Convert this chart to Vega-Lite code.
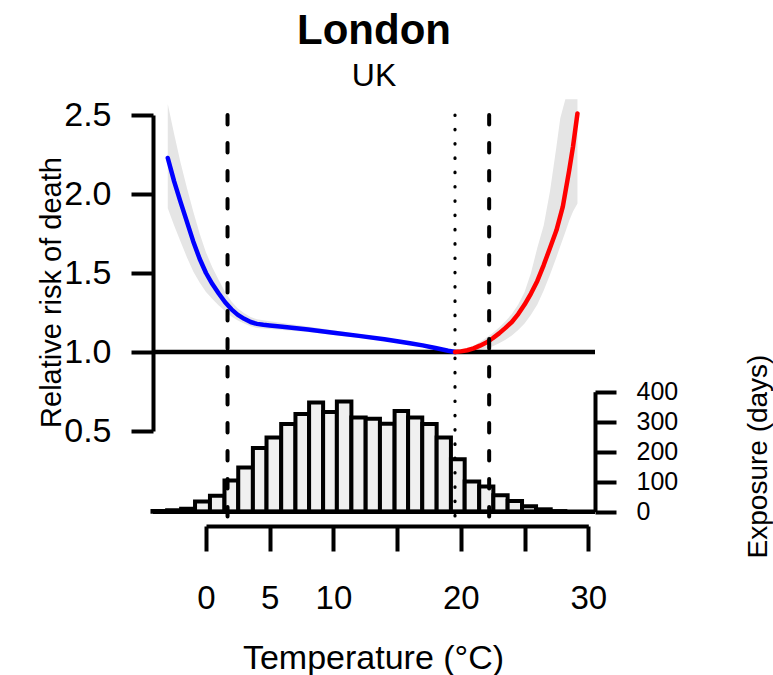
{
  "$schema": "https://vega.github.io/schema/vega-lite/v6.json",
  "width": 442,
  "height": 411,
  "autosize": {"type": "none"},
  "padding": {"left": 153, "top": 115, "right": 178, "bottom": 149},
  "background": "white",
  "title": {
    "text": "London",
    "subtitle": "UK",
    "anchor": "middle",
    "frame": "group",
    "font": "Liberation Sans",
    "fontSize": 42,
    "fontWeight": "bold",
    "color": "black",
    "subtitleFont": "Liberation Sans",
    "subtitleFontSize": 32,
    "subtitleColor": "black",
    "offset": 5,
    "subtitlePadding": 8
  },
  "config": {
    "view": {"stroke": null},
    "font": "Liberation Sans",
    "axisX": {
      "orient": "bottom",
      "grid": false,
      "domainColor": "black",
      "domainWidth": 4,
      "tickColor": "black",
      "tickWidth": 4,
      "tickSize": 25,
      "labelColor": "black",
      "labelFont": "Liberation Sans",
      "labelPadding": 31,
      "labelFontSize": 33,
      "labelFlush": false,
      "labelOverlap": false,
      "titleColor": "black",
      "titleFont": "Liberation Sans",
      "titleFontWeight": "normal",
      "titleFontSize": 34,
      "titleX": 220,
      "titleY": 142,
      "titleAlign": "center",
      "titleBaseline": "alphabetic"
    }
  },
  "resolve": {"scale": {"y": "independent"}, "axis": {"y": "independent"}},
  "layer": [
    {
      "data": {"values": [
        {"x0": -4.2, "x1": -3.05, "n": 2},
        {"x0": -3.05, "x1": -1.95, "n": 5},
        {"x0": -1.95, "x1": -0.86, "n": 10},
        {"x0": -0.86, "x1": 0.31, "n": 34},
        {"x0": 0.31, "x1": 1.45, "n": 53},
        {"x0": 1.45, "x1": 2.53, "n": 104},
        {"x0": 2.53, "x1": 3.68, "n": 147},
        {"x0": 3.68, "x1": 4.75, "n": 212},
        {"x0": 4.75, "x1": 5.9, "n": 247},
        {"x0": 5.9, "x1": 7.02, "n": 292},
        {"x0": 7.02, "x1": 8.09, "n": 326},
        {"x0": 8.09, "x1": 9.19, "n": 364},
        {"x0": 9.19, "x1": 10.27, "n": 332},
        {"x0": 10.27, "x1": 11.41, "n": 367},
        {"x0": 11.41, "x1": 12.53, "n": 314},
        {"x0": 12.53, "x1": 13.65, "n": 310},
        {"x0": 13.65, "x1": 14.8, "n": 293},
        {"x0": 14.8, "x1": 15.86, "n": 336},
        {"x0": 15.86, "x1": 16.97, "n": 314},
        {"x0": 16.97, "x1": 18.1, "n": 292},
        {"x0": 18.1, "x1": 19.22, "n": 247},
        {"x0": 19.22, "x1": 20.3, "n": 175},
        {"x0": 20.3, "x1": 21.44, "n": 101},
        {"x0": 21.44, "x1": 22.55, "n": 84},
        {"x0": 22.55, "x1": 23.67, "n": 55},
        {"x0": 23.67, "x1": 24.8, "n": 36},
        {"x0": 24.8, "x1": 25.9, "n": 18},
        {"x0": 25.9, "x1": 27.05, "n": 8},
        {"x0": 27.05, "x1": 28.2, "n": 2}
      ]},
      "mark": {"type": "rect", "fill": "#F0F0F0", "stroke": "black", "strokeWidth": 4},
      "encoding": {
        "x": {
          "field": "x0", "type": "quantitative",
          "scale": {"domain": [0, 30], "range": [53, 435.3], "nice": false, "zero": false},
          "title": "Temperature (°C)",
          "axis": {"values": [0, 5, 10, 15, 20, 25, 30], "format": "d", "labelExpr": "datum.value == 15 || datum.value == 25 ? '' : datum.label"}
        },
        "x2": {"field": "x1"},
        "y": {
          "field": "n", "type": "quantitative",
          "scale": {"domain": [0, 400], "range": [396.7, 276.7], "nice": false, "zero": false},
          "axis": {
            "orient": "right",
            "grid": false,
            "values": [0, 100, 200, 300, 400],
            "domainColor": "black",
            "domainWidth": 4,
            "tickColor": "black",
            "tickWidth": 4,
            "tickSize": 21,
            "labelColor": "black",
            "labelFont": "Liberation Sans",
            "labelPadding": 20,
            "labelFontSize": 25,
            "labelBaseline": "middle",
            "labelOverlap": false,
            "labelFlush": false,
            "title": "Exposure (days)",
            "titleColor": "black",
            "titleFont": "Liberation Sans",
            "titleFontWeight": "normal",
            "titleFontSize": 28,
            "titleAngle": 270,
            "titleX": 171,
            "titleY": 341,
            "titleAlign": "center",
            "titleBaseline": "alphabetic"
          }
        },
        "y2": {"datum": 0}
      }
    },
    {
      "data": {"values": [{}]},
      "mark": {"type": "rule", "color": "black", "strokeWidth": 4.5},
      "encoding": {
        "y": {"datum": 0, "type": "quantitative", "scale": {"domain": [0, 400], "range": [396.7, 276.7], "nice": false, "zero": false}, "axis": null}
      }
    },
    {
      "data": {"values": [
        {"seg": "cold", "t": -3.0, "lo": 1.91, "hi": 2.57},
        {"seg": "cold", "t": -2.5, "lo": 1.80, "hi": 2.38},
        {"seg": "cold", "t": -2.0, "lo": 1.70, "hi": 2.20},
        {"seg": "cold", "t": -1.5, "lo": 1.60, "hi": 2.04},
        {"seg": "cold", "t": -1.0, "lo": 1.51, "hi": 1.89},
        {"seg": "cold", "t": -0.5, "lo": 1.44, "hi": 1.75},
        {"seg": "cold", "t": 0.0, "lo": 1.38, "hi": 1.63},
        {"seg": "cold", "t": 0.5, "lo": 1.335, "hi": 1.535},
        {"seg": "cold", "t": 1.0, "lo": 1.295, "hi": 1.455},
        {"seg": "cold", "t": 1.5, "lo": 1.26, "hi": 1.38},
        {"seg": "cold", "t": 2.0, "lo": 1.225, "hi": 1.32},
        {"seg": "cold", "t": 2.5, "lo": 1.20, "hi": 1.275},
        {"seg": "cold", "t": 3.0, "lo": 1.18, "hi": 1.245},
        {"seg": "cold", "t": 3.5, "lo": 1.163, "hi": 1.222},
        {"seg": "cold", "t": 4.0, "lo": 1.152, "hi": 1.207},
        {"seg": "cold", "t": 5.0, "lo": 1.145, "hi": 1.195},
        {"seg": "cold", "t": 6.0, "lo": 1.14, "hi": 1.183},
        {"seg": "cold", "t": 8.0, "lo": 1.126, "hi": 1.162},
        {"seg": "cold", "t": 10.0, "lo": 1.108, "hi": 1.137},
        {"seg": "cold", "t": 12.0, "lo": 1.09, "hi": 1.114},
        {"seg": "cold", "t": 14.0, "lo": 1.071, "hi": 1.09},
        {"seg": "cold", "t": 16.0, "lo": 1.049, "hi": 1.062},
        {"seg": "cold", "t": 18.0, "lo": 1.021, "hi": 1.029},
        {"seg": "cold", "t": 19.54, "lo": 1.0, "hi": 1.0},
        {"seg": "heat", "t": 19.54, "lo": 1.0, "hi": 1.0},
        {"seg": "heat", "t": 20.0, "lo": 0.998, "hi": 1.01},
        {"seg": "heat", "t": 20.5, "lo": 1.0, "hi": 1.022},
        {"seg": "heat", "t": 21.0, "lo": 1.005, "hi": 1.04},
        {"seg": "heat", "t": 21.5, "lo": 1.012, "hi": 1.063},
        {"seg": "heat", "t": 22.0, "lo": 1.022, "hi": 1.09},
        {"seg": "heat", "t": 22.5, "lo": 1.036, "hi": 1.12},
        {"seg": "heat", "t": 23.0, "lo": 1.055, "hi": 1.155},
        {"seg": "heat", "t": 23.5, "lo": 1.078, "hi": 1.195},
        {"seg": "heat", "t": 24.0, "lo": 1.105, "hi": 1.24},
        {"seg": "heat", "t": 24.5, "lo": 1.14, "hi": 1.30},
        {"seg": "heat", "t": 25.0, "lo": 1.18, "hi": 1.38},
        {"seg": "heat", "t": 25.5, "lo": 1.235, "hi": 1.50},
        {"seg": "heat", "t": 26.0, "lo": 1.30, "hi": 1.66},
        {"seg": "heat", "t": 26.5, "lo": 1.39, "hi": 1.80},
        {"seg": "heat", "t": 27.0, "lo": 1.49, "hi": 2.02},
        {"seg": "heat", "t": 27.5, "lo": 1.60, "hi": 2.30},
        {"seg": "heat", "t": 27.8, "lo": 1.67, "hi": 2.48},
        {"seg": "heat", "t": 28.2, "lo": 1.76, "hi": 2.60},
        {"seg": "heat", "t": 28.5, "lo": 1.83, "hi": 2.60},
        {"seg": "heat", "t": 28.8, "lo": 1.89, "hi": 2.60},
        {"seg": "heat", "t": 29.15, "lo": 1.94, "hi": 2.60}
      ]},
      "mark": {"type": "area", "color": "#E5E5E5"},
      "encoding": {
        "x": {
          "field": "t", "type": "quantitative",
          "scale": {"domain": [0, 30], "range": [53, 435.3], "nice": false, "zero": false},
          "title": "Temperature (°C)",
          "axis": {"values": [0, 5, 10, 15, 20, 25, 30], "format": "d", "labelExpr": "datum.value == 15 || datum.value == 25 ? '' : datum.label"}
        },
        "y": {
          "field": "lo", "type": "quantitative",
          "scale": {"domain": [0.5, 2.5], "range": [316, 0], "nice": false, "zero": false},
          "axis": {
            "orient": "left",
            "grid": false,
            "values": [0.5, 1, 1.5, 2, 2.5],
            "format": ".1f",
            "domainColor": "black",
            "domainWidth": 4,
            "tickColor": "black",
            "tickWidth": 4,
            "tickSize": 22,
            "labelColor": "black",
            "labelFont": "Liberation Sans",
            "labelPadding": 20,
            "labelFontSize": 34,
            "labelBaseline": "middle",
            "labelOverlap": false,
            "labelFlush": false,
            "title": "Relative risk of death",
            "titleColor": "black",
            "titleFont": "Liberation Sans",
            "titleFontWeight": "normal",
            "titleFontSize": 29,
            "titleAngle": 270,
            "titleX": -93,
            "titleY": 177,
            "titleAlign": "center",
            "titleBaseline": "alphabetic"
          }
        },
        "y2": {"field": "hi"},
        "detail": {"field": "seg", "type": "nominal"}
      }
    },
    {
      "data": {"values": [{}]},
      "mark": {"type": "rule", "color": "black", "strokeWidth": 4.5},
      "encoding": {
        "y": {"datum": 1, "type": "quantitative", "scale": {"domain": [0.5, 2.5], "range": [316, 0], "nice": false, "zero": false}, "axis": null}
      }
    },
    {
      "data": {"values": [
        {"seg": "cold", "t": -3.0, "rr": 2.228},
        {"seg": "cold", "t": -2.5, "rr": 2.08},
        {"seg": "cold", "t": -2.0, "rr": 1.95},
        {"seg": "cold", "t": -1.5, "rr": 1.825},
        {"seg": "cold", "t": -1.0, "rr": 1.70},
        {"seg": "cold", "t": -0.5, "rr": 1.59},
        {"seg": "cold", "t": 0.0, "rr": 1.50},
        {"seg": "cold", "t": 0.5, "rr": 1.43},
        {"seg": "cold", "t": 1.0, "rr": 1.37},
        {"seg": "cold", "t": 1.5, "rr": 1.315},
        {"seg": "cold", "t": 2.0, "rr": 1.27},
        {"seg": "cold", "t": 2.5, "rr": 1.235},
        {"seg": "cold", "t": 3.0, "rr": 1.21},
        {"seg": "cold", "t": 3.5, "rr": 1.19},
        {"seg": "cold", "t": 4.0, "rr": 1.178},
        {"seg": "cold", "t": 4.5, "rr": 1.172},
        {"seg": "cold", "t": 5.0, "rr": 1.168},
        {"seg": "cold", "t": 6.0, "rr": 1.16},
        {"seg": "cold", "t": 8.0, "rr": 1.143},
        {"seg": "cold", "t": 10.0, "rr": 1.122},
        {"seg": "cold", "t": 12.0, "rr": 1.102},
        {"seg": "cold", "t": 14.0, "rr": 1.081},
        {"seg": "cold", "t": 16.0, "rr": 1.056},
        {"seg": "cold", "t": 17.0, "rr": 1.042},
        {"seg": "cold", "t": 18.0, "rr": 1.025},
        {"seg": "cold", "t": 19.0, "rr": 1.008},
        {"seg": "cold", "t": 19.54, "rr": 1.0},
        {"seg": "heat", "t": 19.54, "rr": 1.0},
        {"seg": "heat", "t": 20.0, "rr": 1.004},
        {"seg": "heat", "t": 20.5, "rr": 1.011},
        {"seg": "heat", "t": 21.0, "rr": 1.023},
        {"seg": "heat", "t": 21.5, "rr": 1.04},
        {"seg": "heat", "t": 22.0, "rr": 1.06},
        {"seg": "heat", "t": 22.5, "rr": 1.087},
        {"seg": "heat", "t": 23.0, "rr": 1.118},
        {"seg": "heat", "t": 23.5, "rr": 1.153},
        {"seg": "heat", "t": 24.0, "rr": 1.19},
        {"seg": "heat", "t": 24.5, "rr": 1.24},
        {"seg": "heat", "t": 25.0, "rr": 1.30},
        {"seg": "heat", "t": 25.5, "rr": 1.37},
        {"seg": "heat", "t": 26.0, "rr": 1.45},
        {"seg": "heat", "t": 26.5, "rr": 1.55},
        {"seg": "heat", "t": 27.0, "rr": 1.66},
        {"seg": "heat", "t": 27.5, "rr": 1.77},
        {"seg": "heat", "t": 28.0, "rr": 1.92},
        {"seg": "heat", "t": 28.5, "rr": 2.15},
        {"seg": "heat", "t": 28.8, "rr": 2.30},
        {"seg": "heat", "t": 29.15, "rr": 2.51}
      ]},
      "mark": {"type": "line", "strokeWidth": 4.5, "strokeCap": "round", "strokeJoin": "round"},
      "encoding": {
        "x": {
          "field": "t", "type": "quantitative",
          "scale": {"domain": [0, 30], "range": [53, 435.3], "nice": false, "zero": false},
          "title": "Temperature (°C)",
          "axis": {"values": [0, 5, 10, 15, 20, 25, 30], "format": "d", "labelExpr": "datum.value == 15 || datum.value == 25 ? '' : datum.label"}
        },
        "y": {"field": "rr", "type": "quantitative", "scale": {"domain": [0.5, 2.5], "range": [316, 0], "nice": false, "zero": false}, "axis": null},
        "color": {"field": "seg", "type": "nominal", "scale": {"domain": ["cold", "heat"], "range": ["#0000FF", "#FF0000"]}, "legend": null}
      }
    },
    {
      "data": {"values": [{"t": 1.69}, {"t": 22.22}]},
      "mark": {"type": "rule", "color": "black", "strokeWidth": 4, "strokeDash": [9.5, 18.5], "strokeCap": "round"},
      "encoding": {
        "x": {
          "field": "t", "type": "quantitative",
          "scale": {"domain": [0, 30], "range": [53, 435.3], "nice": false, "zero": false},
          "title": "Temperature (°C)",
          "axis": {"values": [0, 5, 10, 15, 20, 25, 30], "format": "d", "labelExpr": "datum.value == 15 || datum.value == 25 ? '' : datum.label"}
        }
      }
    },
    {
      "data": {"values": [{"t": 19.54}]},
      "mark": {"type": "rule", "color": "black", "strokeWidth": 3.2, "strokeDash": [0.5, 13.8], "strokeCap": "round"},
      "encoding": {
        "x": {
          "field": "t", "type": "quantitative",
          "scale": {"domain": [0, 30], "range": [53, 435.3], "nice": false, "zero": false},
          "title": "Temperature (°C)",
          "axis": {"values": [0, 5, 10, 15, 20, 25, 30], "format": "d", "labelExpr": "datum.value == 15 || datum.value == 25 ? '' : datum.label"}
        }
      }
    }
  ]
}
